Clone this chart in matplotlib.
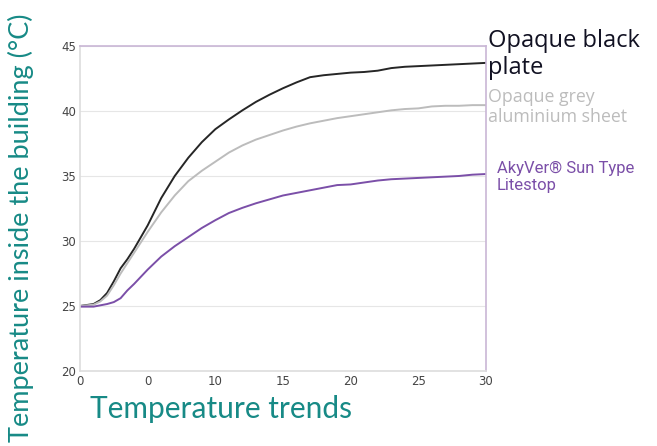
import matplotlib
matplotlib.use("Agg")
import matplotlib.pyplot as plt

# ── data ─────────────────────────────────────────────────────────────────────
t = [0, 1, 1.5, 2, 2.5, 3, 3.5, 4, 5, 6, 7, 8, 9, 10, 11, 12, 13, 14, 15,
     16, 17, 18, 19, 20, 21, 22, 23, 24, 25, 26, 27, 28, 29, 30]

black_plate = [25.0, 25.15, 25.45, 26.0, 26.9, 27.9, 28.6, 29.4, 31.2, 33.3,
               35.0, 36.4, 37.6, 38.6, 39.35, 40.05, 40.7, 41.25, 41.75, 42.2,
               42.6, 42.75, 42.85, 42.95, 43.0, 43.1, 43.3, 43.4, 43.45, 43.5,
               43.55, 43.6, 43.65, 43.7]
grey_sheet = [25.0, 25.1, 25.35, 25.8, 26.6, 27.5, 28.3, 29.1, 30.7, 32.2,
              33.5, 34.6, 35.4, 36.1, 36.8, 37.35, 37.8, 38.15, 38.5, 38.8,
              39.05, 39.25, 39.45, 39.6, 39.75, 39.9, 40.05, 40.15, 40.2, 40.35,
              40.4, 40.4, 40.45, 40.45]
litestop = [24.95, 24.95, 25.05, 25.15, 25.3, 25.6, 26.2, 26.7, 27.8, 28.8,
            29.6, 30.3, 31.0, 31.6, 32.15, 32.55, 32.9, 33.2, 33.5, 33.7,
            33.9, 34.1, 34.3, 34.35, 34.5, 34.65, 34.75, 34.8, 34.85, 34.9,
            34.95, 35.0, 35.1, 35.15]

x_ticks = [0, 5, 10, 15, 20, 25, 30]
x_labels = ["0", "0", "10", "15", "20", "25", "30"]
y_ticks = [20, 25, 30, 35, 40, 45]

TEAL = "#178a86"
PURPLE = "#7b4fa8"
GREY = "#bcbcbc"

fig = plt.figure(figsize=(6.57, 4.46), dpi=100)
ax = fig.add_axes([0.1218, 0.1682, 0.6179, 0.7287])

ax.plot(t, black_plate, color="#262626", lw=1.4)
ax.plot(t, grey_sheet, color=GREY, lw=1.4)
ax.plot(t, litestop, color=PURPLE, lw=1.4)

ax.set_xlim(0, 30)
ax.set_ylim(20, 45)
ax.set_xticks(x_ticks)
ax.set_xticklabels(x_labels)
ax.set_yticks(y_ticks)
ax.tick_params(length=0, labelsize=8.5, colors="#444444", pad=3)
ax.grid(axis="y", color="#e6e6e6", lw=0.8)
ax.set_axisbelow(True)

for side in ("left", "bottom"):
    ax.spines[side].set_color("#dddddd")
    ax.spines[side].set_linewidth(1.2)
for side in ("top", "right"):
    ax.spines[side].set_color("#c9b6d6")
    ax.spines[side].set_linewidth(1.2)

# axis titles
fig.text(0.032, 0.49, "Temperature inside the building (°C)", rotation=90,
         ha="center", va="center", color=TEAL, fontsize=19.5, family="Lato")
fig.text(0.137, 0.083, "Temperature trends", ha="left", va="center",
         color=TEAL, fontsize=21.5, family="Lato")

# series labels at the right
fig.text(0.743, 0.878, "Opaque black\nplate", ha="left", va="center",
         color="#111122", fontsize=17, family="Open Sans", linespacing=1.2)
fig.text(0.743, 0.76, "Opaque grey\naluminium sheet", ha="left", va="center",
         color=GREY, fontsize=12.8, family="Open Sans", linespacing=1.08)
fig.text(0.756, 0.603, "AkyVer\u00ae Sun Type\nLitestop", ha="left",
         va="center", color=PURPLE, fontsize=12, family="Roboto",
         linespacing=1.1)

fig.savefig("out.png", dpi=100)
